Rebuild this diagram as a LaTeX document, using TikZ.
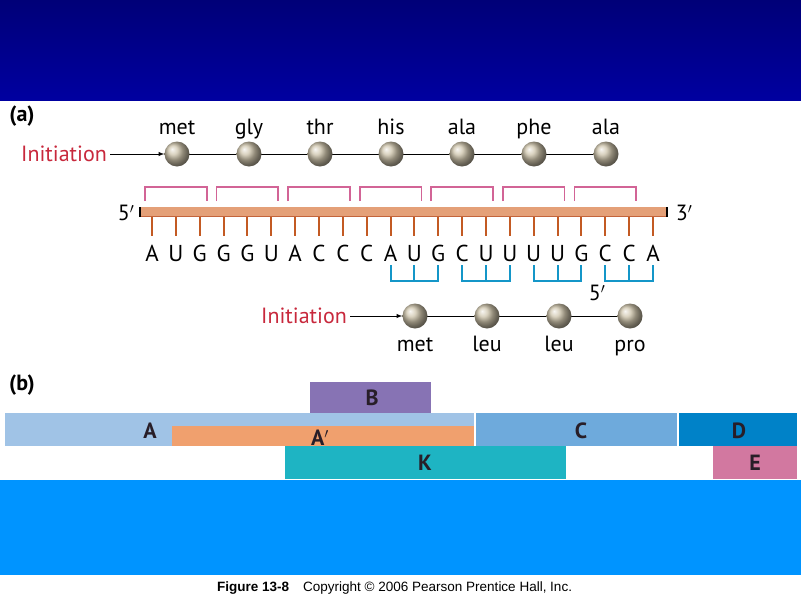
\documentclass[tikz,border=0pt]{standalone}
\usepackage{fontspec}
\setmainfont{PT Sans}
\newfontfamily\capfont{Liberation Sans}
\definecolor{beadc}{RGB}{205,195,170}
\definecolor{initc}{RGB}{200,40,60}
\definecolor{pinkc}{RGB}{210,100,150}
\definecolor{bluec}{RGB}{20,150,200}
\definecolor{stickc}{RGB}{195,90,35}
\definecolor{barc}{RGB}{40,30,40}
\definecolor{navyA}{RGB}{0,0,120}
\definecolor{navyB}{RGB}{0,0,160}
\definecolor{skyc}{RGB}{0,148,255}
\definecolor{rodc}{RGB}{228,160,120}
\definecolor{rodedge}{RGB}{195,100,60}
\definecolor{colA}{RGB}{160,195,230}
\definecolor{colAp}{RGB}{240,160,110}
\definecolor{colB}{RGB}{135,115,180}
\definecolor{colC}{RGB}{110,170,220}
\definecolor{colD}{RGB}{0,130,200}
\definecolor{colK}{RGB}{30,180,195}
\definecolor{colE}{RGB}{210,120,160}
\begin{document}
\begin{tikzpicture}[x=1pt,y=-1pt,
  bead/.style={circle,minimum size=25pt,inner sep=0pt,shading=ball,ball color=beadc},
  aa/.style={font=\fontsize{22}{22}\selectfont,anchor=base,inner sep=0pt},
  init/.style={font=\fontsize{22}{22}\selectfont,text=initc},
  base/.style={font=\fontsize{23}{23}\selectfont,anchor=base,inner sep=0pt},
  pinkb/.style={draw=pinkc,line width=1.6pt},
  blueb/.style={draw=bluec,line width=2pt},
  stick/.style={draw=stickc,line width=2pt},
  bar/.style={inner sep=0pt,font=\fontsize{22}{22}\selectfont\bfseries,text=barc}]
\useasboundingbox (0,0) rectangle (801,600);
\fill[white] (0,0) rectangle (801,600);
\fill[top color=navyA,bottom color=navyB] (0,0) rectangle (801,100);
\fill[skyc] (0,480) rectangle (801,575);
% (a)
\node[font=\fontsize{22}{22}\selectfont\bfseries] (la) at (22,116) {(a)};
\foreach \n/\x/\t in {1/177/met,2/249/gly,3/320/thr,4/391/his,5/462/ala,6/534/phe,7/606/ala}{
  \node[aa] (t\n) at (\x,134) {\t};
}
\draw[line width=1pt] (177,154) -- (606,154);
\foreach \n/\x in {1/177,2/249,3/320,4/391,5/462,6/534,7/606}{
  \node[bead] (b\n) at (\x,154) {};
}
\node[init] (i1) at (64,154) {Initiation};
\draw[line width=1pt,-latex] (i1.east) -- (b1.west);
% pink brackets
\foreach \k in {0,...,6}{
  \pgfmathsetmacro\xa{152+71.57*\k-7}
  \pgfmathsetmacro\xb{152+71.57*\k+47.7+7}
  \draw[pinkb] (\xa,201) -- (\xa,187) -- (\xb,187) -- (\xb,201);
}
% sticks
\foreach \i in {0,...,21}{
  \pgfmathsetmacro\x{152+23.857*\i}
  \draw[stick] (\x,214) -- (\x,236);
}
\fill[rodc] (140,207) rectangle (667,217);
\draw[rodedge,line width=0.8pt] (140,216.5) -- (667,216.5);
\draw[line width=1.5pt] (140,207) -- (140,217);
\draw[line width=1.5pt] (667,207) -- (667,217);
\node[font=\fontsize{22}{22}\selectfont] (f5) at (126,213) {5$'$};
\node[font=\fontsize{22}{22}\selectfont] (f3) at (684,213) {3$'$};
\foreach \i/\b in {0/A,1/U,2/G,3/G,4/G,5/U,6/A,7/C,8/C,9/C,10/A,11/U,12/G,13/C,14/U,15/U,16/U,17/U,18/G,19/C,20/C,21/A}{
  \node[base] (n\i) at ({152+23.857*\i},261) {\b};
}
% blue brackets
\foreach \k in {0,...,3}{
  \pgfmathsetmacro\xa{152+23.857*(10+3*\k)}
  \pgfmathsetmacro\xm{\xa+23.857}
  \pgfmathsetmacro\xb{\xa+47.71}
  \draw[blueb] (\xa,265) -- (\xa,281) -- (\xb,281) -- (\xb,265);
  \draw[blueb] (\xm,265) -- (\xm,281);
}
\node[font=\fontsize{22}{22}\selectfont] (f5b) at (597,293) {5$'$};
\draw[line width=1pt] (415,316) -- (630,316);
\foreach \n/\x/\t in {1/415/met,2/487/leu,3/559/leu,4/630/pro}{
  \node[bead] (c\n) at (\x,316) {};
  \node[aa] (u\n) at (\x,351) {\t};
}
\node[init] (i2) at (304,316) {Initiation};
\draw[line width=1pt,-latex] (i2.east) -- (c1.west);
% (b)
\node[font=\fontsize{22}{22}\selectfont\bfseries] (lb) at (22,385) {(b)};
\fill[colA] (5,413) rectangle (474,446);
\fill[colAp] (172,426) rectangle (474,446);
\fill[colB] (310,382) rectangle (431,413);
\fill[colC] (476,413) rectangle (677,446);
\fill[colD] (679,413) rectangle (797,446);
\fill[colK] (285,446) rectangle (566,479);
\fill[colE] (713,446) rectangle (797,479);
\node[bar] (ta) at (150,431) {A};
\node[bar] (tap) at (320,438) {A$'$};
\node[bar] (tb) at (372,398) {B};
\node[bar] (tc) at (581,431) {C};
\node[bar] (td) at (739,431) {D};
\node[bar] (tk) at (425,463) {K};
\node[bar] (te) at (755,463) {E};
% caption
\node[font=\capfont\fontsize{13.5}{14}\selectfont,anchor=west,inner sep=0pt] (cap) at (217,588) {\textbf{Figure 13-8}\hspace{14pt}Copyright \textcopyright{} 2006 Pearson Prentice Hall, Inc.};
\end{tikzpicture}
\end{document}
